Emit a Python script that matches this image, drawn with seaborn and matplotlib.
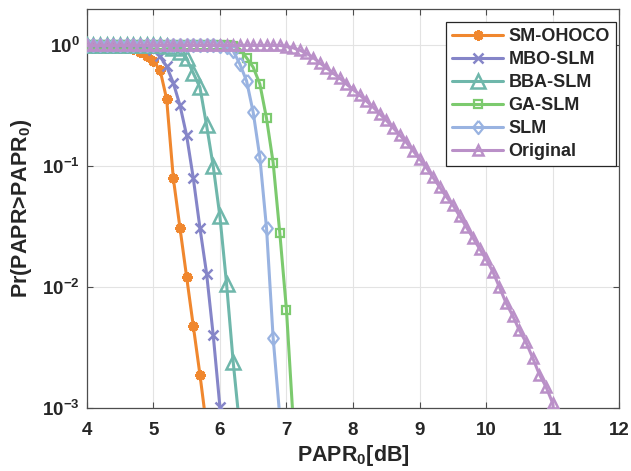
import numpy as np
import pandas as pd
import matplotlib
matplotlib.use("Agg")
import matplotlib.pyplot as plt
from matplotlib.ticker import NullLocator, FixedLocator
import seaborn as sns

# PAPR threshold grid starts at 4 dB with 0.1 dB spacing
papr_start = 4.0
papr_step = 0.1

# CCDF values Pr(PAPR > PAPR0), one value per 0.1 dB from 4 dB
sm_ohoco = [1.0, 1.0, 1.0, 1.0, 1.0, 0.99, 0.975, 0.94, 0.89, 0.82,
            0.74, 0.63, 0.36, 0.080, 0.031, 0.0122, 0.0048, 0.0019, 0.0007]
mbo_slm = [1.0, 1.0, 1.0, 1.0, 1.0, 1.0, 1.0, 1.0, 0.99, 0.97,
           0.92, 0.81, 0.67, 0.49, 0.32, 0.18, 0.080, 0.031, 0.013, 0.0040,
           0.00103, 0.0002]
bba_slm = [1.0, 1.0, 1.0, 1.0, 1.0, 1.0, 1.0, 1.0, 1.0, 1.0,
           1.0, 1.0, 0.99, 0.96, 0.88, 0.78, 0.59, 0.45, 0.218, 0.100,
           0.0386, 0.0107, 0.0024, 0.00068]
ga_slm = [1.0, 1.0, 1.0, 1.0, 1.0, 1.0, 1.0, 1.0, 1.0, 1.0,
          1.0, 1.0, 1.0, 1.0, 1.0, 1.0, 1.0, 1.0, 1.0, 1.0,
          1.0, 1.0, 0.99, 0.93, 0.79, 0.66, 0.48, 0.25, 0.107, 0.028,
          0.0065, 0.0008]
slm = [1.0, 1.0, 1.0, 1.0, 1.0, 1.0, 1.0, 1.0, 1.0, 1.0,
       1.0, 1.0, 1.0, 1.0, 1.0, 1.0, 1.0, 1.0, 1.0, 1.0,
       0.99, 0.97, 0.90, 0.70, 0.51, 0.28, 0.119, 0.031, 0.0038, 0.00085]
original = [1.0, 1.0, 1.0, 1.0, 1.0, 1.0, 1.0, 1.0, 1.0, 1.0,
            1.0, 1.0, 1.0, 1.0, 1.0, 1.0, 1.0, 1.0, 1.0, 1.0,
            1.0, 1.0, 1.0, 1.0, 1.0, 1.0, 1.0, 1.0, 1.0, 1.0,
            0.977, 0.955, 0.912, 0.861, 0.794, 0.716, 0.653, 0.589, 0.537, 0.479,
            0.432, 0.389, 0.347, 0.309, 0.272, 0.240, 0.209, 0.182, 0.158, 0.135,
            0.115, 0.0977, 0.0813, 0.0676, 0.0562, 0.0479, 0.0389, 0.0316, 0.0257, 0.0209,
            0.0170, 0.0135, 0.0100, 0.0074, 0.0058, 0.0044, 0.0035, 0.0026, 0.0019, 0.0015,
            0.0011, 0.0003]

series_names = ["SM-OHOCO", "MBO-SLM", "BBA-SLM", "GA-SLM", "SLM", "Original"]
series_values = [sm_ohoco, mbo_slm, bba_slm, ga_slm, slm, original]

x_ticks = [4, 5, 6, 7, 8, 9, 10, 11, 12]
y_ticks = [1e-3, 1e-2, 1e-1, 1e0]

# Styling per series
diamond = [(0, 1), (0.8, 0), (0, -1), (-0.8, 0), (0, 1)]
colors = ["#F0872E", "#8585C8", "#6FB7AB", "#7CCA6E", "#99B3E1", "#BA90C8"]
markers = [(8, 2, 0), "x", "^", "s", diamond, "^"]
msizes = [7.5, 6.5, 10.5, 6, 9.5, 7.5]
mews = [2.0, 1.8, 1.8, 1.6, 1.6, 1.8]
filled = [True, True, False, False, False, False]

sns.set_style("ticks")
plt.rcParams["font.family"] = ["Liberation Sans", "DejaVu Sans"]
plt.rcParams["font.weight"] = "bold"
plt.rcParams["mathtext.fontset"] = "custom"
plt.rcParams["mathtext.rm"] = "Liberation Sans:bold"
plt.rcParams["mathtext.it"] = "Liberation Sans:bold"
plt.rcParams["mathtext.bf"] = "Liberation Sans:bold"
plt.rcParams["mathtext.default"] = "regular"

fig = plt.figure(figsize=(6.31, 4.71), dpi=100)
ax = fig.add_axes([0.1375, 0.1331, 0.8440, 0.8478])

frames = []
for name, vals in zip(series_names, series_values):
    x = np.round(papr_start + papr_step * np.arange(len(vals)), 1)
    frames.append(pd.DataFrame({"PAPR0": x, "CCDF": vals, "scheme": name}))
data = pd.concat(frames, ignore_index=True)

for i, name in enumerate(series_names):
    sub = data[data["scheme"] == name]
    sns.lineplot(data=sub, x="PAPR0", y="CCDF", ax=ax,
                 color=colors[i], linewidth=2.2,
                 marker=markers[i], markersize=msizes[i],
                 markeredgewidth=mews[i], markeredgecolor=colors[i],
                 markerfacecolor=colors[i] if filled[i] else "none",
                 label=name, estimator=None, sort=False, zorder=3 + i)

ax.set_yscale("log")
ax.set_xlim(4, 12)
ax.set_ylim(1e-3, 2)
ax.xaxis.set_major_locator(FixedLocator(x_ticks))
ax.yaxis.set_major_locator(FixedLocator(y_ticks))
ax.yaxis.set_minor_locator(NullLocator())

ax.grid(True, which="major", color="#e3e3e3", linewidth=0.8)
ax.set_axisbelow(True)
for sp in ax.spines.values():
    sp.set_color("#4d4d4d")
    sp.set_linewidth(0.9)
    sp.set_visible(True)

ax.tick_params(axis="both", which="major", direction="in", top=True, right=True,
               length=4, width=0.8, color="#4d4d4d", labelsize=13.5,
               labelcolor="#262626")
ax.tick_params(axis="x", pad=10)
ax.tick_params(axis="y", pad=5)

ax.set_xlabel("PAPR$_0$[dB]", fontsize=15.5, fontweight="bold", color="#262626", labelpad=3)
ax.set_ylabel("Pr(PAPR>PAPR$_0$)", fontsize=15.5, fontweight="bold", color="#262626", labelpad=6)

leg = ax.legend(loc="upper right", bbox_to_anchor=(0.9938, 0.9675), fontsize=13,
                frameon=True, fancybox=False, framealpha=1, edgecolor="#262626",
                handlelength=2.8, handletextpad=0.3, labelspacing=0.33,
                borderpad=0.35, borderaxespad=0)
leg.get_frame().set_linewidth(0.9)
for t in leg.get_texts():
    t.set_color("#262626")

fig.savefig("out.png", dpi=100)
